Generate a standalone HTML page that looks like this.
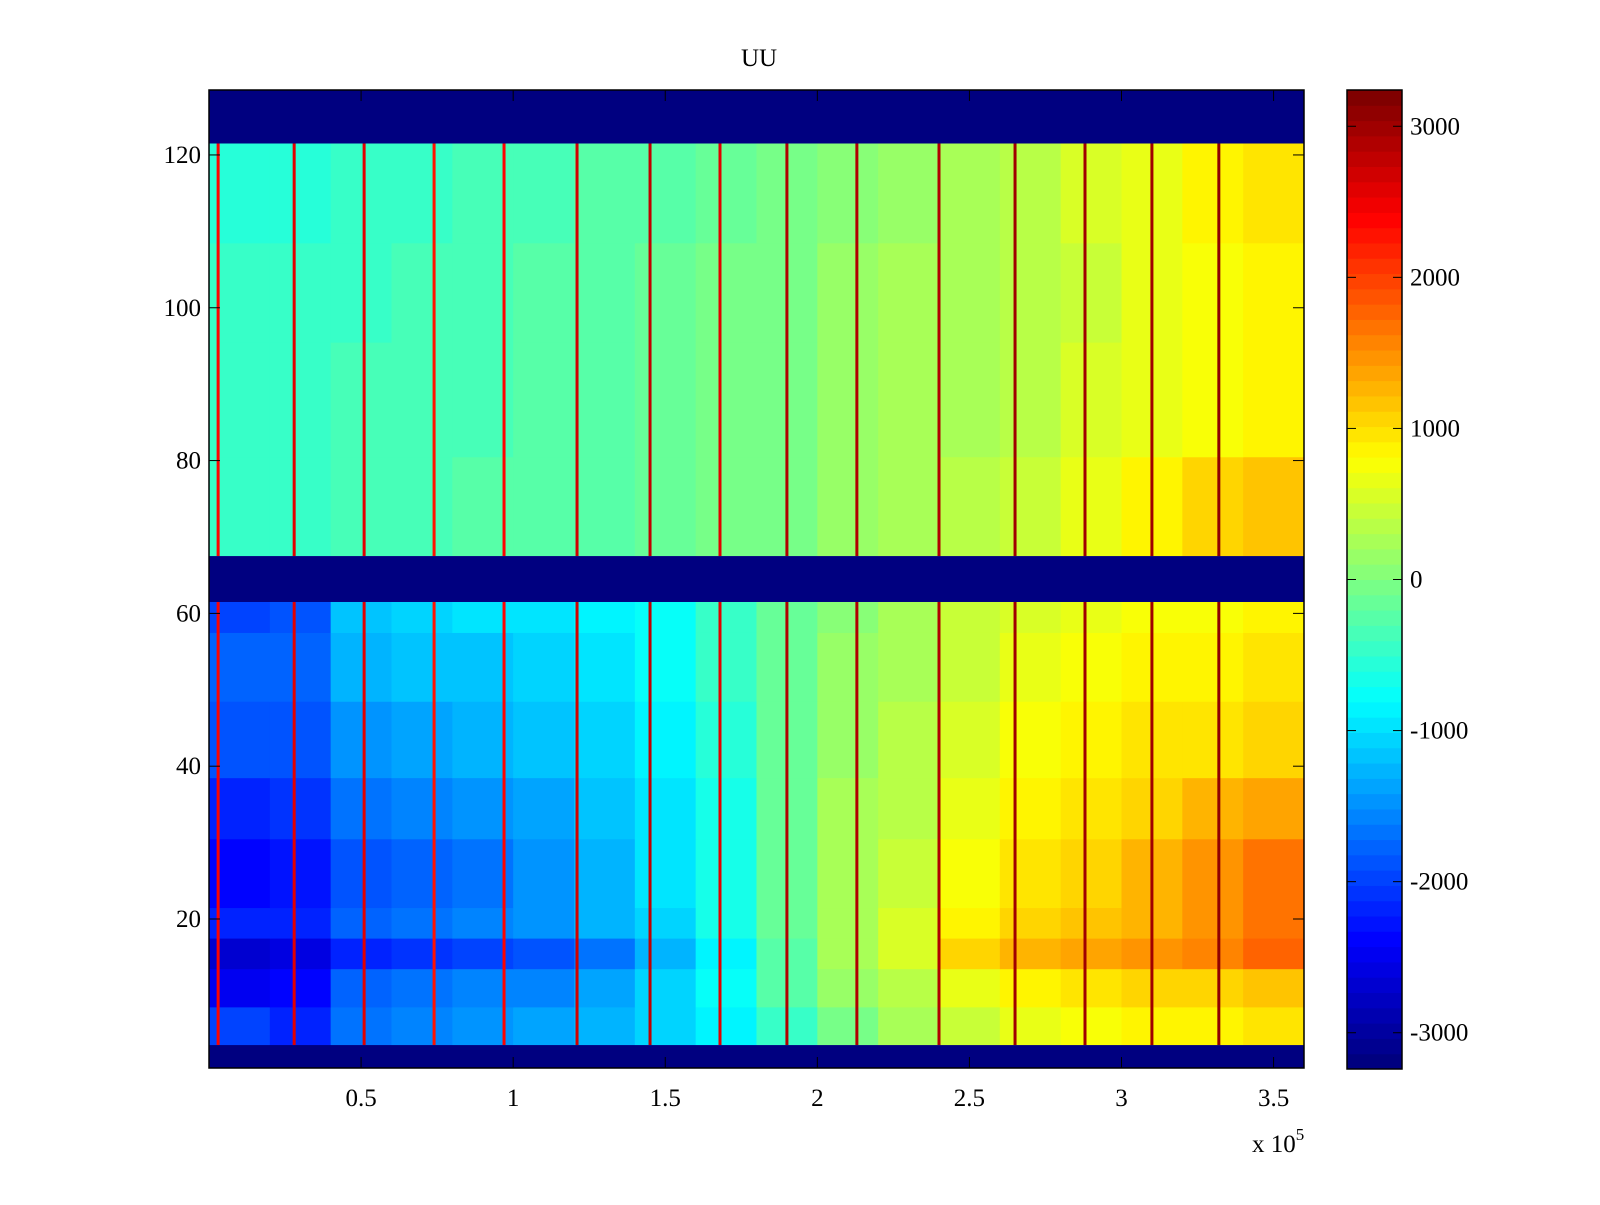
<!DOCTYPE html>
<html><head><meta charset="utf-8"><style>
body{margin:0;background:#fff;width:1600px;height:1200px;overflow:hidden}
svg text{font-family:"Liberation Serif",serif;font-size:25px;fill:#000}
</style></head><body>
<svg id="c" width="1600" height="1200">
<text x="759" y="66" text-anchor="middle">UU</text>
<g id="plot"></g>
</svg>
<script>
const colsX = [0,0.2,0.4,0.6,0.8,1.0,1.2,1.4,1.6,1.8,2.0,2.2,2.4,2.6,2.8,3.0,3.2,3.4,3.6];
const bandRows = [[4,8],[9,13],[14,17],[18,21],[22,30],[31,38],[39,48],[49,57],[58,61],[68,80],[81,95],[96,108],[109,121]];
const bandValues = [
[-2000,-2200,-1700,-1600,-1500,-1400,-1300,-1100,-900,-500,0,300,500,700,800,900,900,1000],
[-2500,-2400,-1800,-1700,-1600,-1600,-1400,-1100,-800,-300,200,400,700,900,1000,1100,1100,1200],
[-2700,-2600,-2200,-2100,-2000,-1900,-1700,-1300,-900,-300,300,600,1100,1300,1400,1500,1600,1800],
[-2200,-2200,-1800,-1700,-1600,-1500,-1300,-1100,-700,-200,300,600,900,1100,1200,1300,1500,1700],
[-2400,-2300,-1900,-1800,-1700,-1500,-1300,-1000,-700,-200,300,500,800,1000,1100,1300,1500,1700],
[-2200,-2100,-1700,-1600,-1500,-1400,-1200,-1000,-700,-200,300,400,700,900,1000,1100,1300,1400],
[-1900,-1900,-1500,-1400,-1300,-1200,-1100,-900,-600,-200,200,400,600,800,900,1000,1000,1100],
[-1800,-1800,-1300,-1200,-1200,-1100,-1000,-800,-500,-200,200,300,500,700,800,900,900,1000],
[-2000,-1900,-1200,-1100,-1000,-1000,-900,-800,-500,-200,100,300,500,600,700,800,800,900],
[-500,-500,-400,-400,-300,-300,-250,-150,-50,0,150,250,400,500,700,900,1100,1200],
[-500,-500,-400,-400,-350,-300,-250,-150,-50,0,150,250,300,400,600,700,800,900],
[-500,-500,-450,-400,-350,-300,-250,-150,-50,0,150,250,300,400,500,700,800,900],
[-600,-600,-500,-500,-400,-400,-300,-250,-150,-50,100,200,300,400,600,700,900,1000]];
const emptyRows = [[0.5,3.5],[61.5,67.5],[121.5,128.5]];
const spikeX = [0.03,0.28,0.51,0.74,0.97,1.21,1.45,1.68,1.9,2.13,2.4,2.65,2.88,3.1,3.32];
const spikeValue = [2400,2600,2600,2300,2400,2700,2800,2600,2900,2900,2900,3000,3000,3000,3100];
const xTicks = [0.5,1,1.5,2,2.5,3,3.5];
const xTickLabels = ["0.5","1","1.5","2","2.5","3","3.5"];
const yTicks = [20,40,60,80,100,120];
const cbTicks = [-3000,-2000,-1000,0,1000,2000,3000];

const L=209,R=1304,T=90,B=1068,XMAX=3.6,YMIN=0.5,YMAX=128.5,VMIN=-3240,VMAX=3240;
const X=v=>L+v/XMAX*(R-L);
const Y=v=>B-(v-YMIN)/(YMAX-YMIN)*(B-T);
function jet(v){let t=(v-VMIN)/(VMAX-VMIN);t=Math.max(0,Math.min(1,t));t=Math.floor(t*63.999)/63;
 const f=x=>Math.round(255*Math.max(0,Math.min(1,1.5-Math.abs(4*t-x))));
 return `rgb(${f(3)},${f(2)},${f(1)})`;}
const NS="http://www.w3.org/2000/svg",svg=document.getElementById('c');
function el(tag,attrs,parent){const e=document.createElementNS(NS,tag);for(const k in attrs)e.setAttribute(k,attrs[k]);(parent||svg).appendChild(e);return e;}
const g=el('g',{});


el('rect',{x:L,y:T,width:R-L,height:B-T,fill:jet(VMIN)},g);
bandRows.forEach((br,i)=>{bandValues[i].forEach((v,j)=>{
 const r=el('rect',{x:X(colsX[j]),y:Y(br[1]+0.5),width:X(colsX[j+1])-X(colsX[j])+0.5,height:Y(br[0]-0.5)-Y(br[1]+0.5)+0.5,fill:jet(v)},g);
 
 
});});
spikeX.forEach((sx,i)=>{[[3.5,61.5],[67.5,121.5]].forEach(rg=>{
 const r=el('rect',{x:X(sx)-1.5,y:Y(rg[1]),width:3,height:Y(rg[0])-Y(rg[1]),fill:jet(spikeValue[i])},g);
 
 
});});
emptyRows.forEach(er=>{const r=el('rect',{x:L,y:Y(er[1]),width:R-L,height:Y(er[0])-Y(er[1]),fill:jet(VMIN)},g);
 
 });
const frame=el('rect',{x:L,y:T,width:R-L,height:B-T,fill:'none',stroke:'#000','stroke-width':1.5});


xTicks.forEach((t,i)=>{const x=X(t);
 el('line',{x1:x,x2:x,y1:B,y2:B-11,stroke:'#000'});el('line',{x1:x,x2:x,y1:T,y2:T+11,stroke:'#000'});
 const tx=el('text',{x:x,y:B+38,'text-anchor':'middle'});tx.textContent=xTickLabels[i];
 
 });
yTicks.forEach(t=>{const y=Y(t);
 el('line',{x1:L,x2:L+11,y1:y,y2:y,stroke:'#000'});el('line',{x1:R,x2:R-11,y1:y,y2:y,stroke:'#000'});
 const tx=el('text',{x:L-8,y:y+8,'text-anchor':'end'});tx.textContent=t;
 
 });
const ex=el('text',{x:1252,y:1152});ex.innerHTML='x 10<tspan dy="-12" font-size="17">5</tspan>';


const CL=1347,CR=1402,CT=90,CB=1069;
const CY=v=>CB-(v-VMIN)/(VMAX-VMIN)*(CB-CT);
const cb=el('g',{});


for(let i=0;i<64;i++){const v0=VMIN+i*(VMAX-VMIN)/64,v1=VMIN+(i+1)*(VMAX-VMIN)/64;
 el('rect',{x:CL,y:CY(v1),width:CR-CL,height:CY(v0)-CY(v1)+0.5,fill:jet((v0+v1)/2)},cb);}
el('rect',{x:CL,y:CT,width:CR-CL,height:CB-CT,fill:'none',stroke:'#000','stroke-width':1.5},cb);
cbTicks.forEach(t=>{const y=CY(t);
 el('line',{x1:CL,x2:CL+9,y1:y,y2:y,stroke:'#000'},cb);el('line',{x1:CR,x2:CR-9,y1:y,y2:y,stroke:'#000'},cb);
 const tx=el('text',{x:CR+8,y:y+8},cb);tx.textContent=t;
 
 });
</script>
</body></html>
